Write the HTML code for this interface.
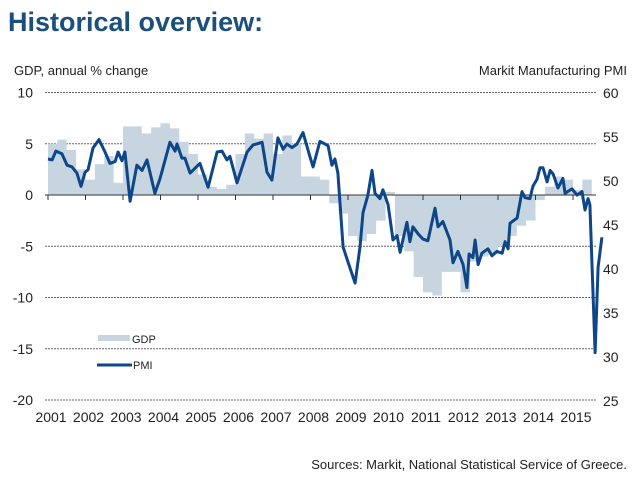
<!DOCTYPE html>
<html><head><meta charset="utf-8"><style>
body{margin:0;background:#fff;width:640px;height:481px;overflow:hidden;font-family:"Liberation Sans",sans-serif}
svg{position:absolute;left:0;top:0}
</style></head><body>
<svg id="c" width="640" height="481">
<text x="8" y="31" font-size="27" font-weight="bold" fill="#1b4f7e">Historical overview:</text>
<text x="14" y="75" font-size="13" fill="#222">GDP, annual % change</text>
<text x="627" y="75" font-size="13" fill="#222" text-anchor="end">Markit Manufacturing PMI</text>
<text x="627" y="469" font-size="13" fill="#222" text-anchor="end">Sources: Markit, National Statistical Service of Greece.</text>
<g id="grid"></g><g id="area"></g><g id="axes"></g><g id="line"></g>
<g>
<rect x="98" y="335" width="32" height="6" fill="#c6d5e0"/>
<text x="132" y="343" font-size="11" fill="#222">GDP</text>
<line x1="97" y1="365" x2="132" y2="365" stroke="#0d4689" stroke-width="3"/>
<text x="133" y="369" font-size="11" fill="#222">PMI</text>
</g>
</svg>
<script>
const years=[2001,2002,2003,2004,2005,2006,2007,2008,2009,2010,2011,2012,2013,2014,2015];
const leftTicks=[10,5,0,-5,-10,-15,-20];
const rightTicks=[60,55,50,45,40,35,30,25];
const gdpValues=[5.0,5.4,4.4,2.5, 1.5,3.0,3.8,1.2, 6.7,6.7,6.0,6.6, 7.0,6.5,5.2,4.0, 2.0,0.8,0.6,1.0, 4.0,6.0,5.5,6.0, 4.0,5.8,5.0,1.8, 1.8,1.5,-0.8,-1.8, -4.0,-4.5,-3.8,-2.5, 0.3,-4.0,-5.5,-8.0, -9.5,-9.8,-7.5,-7.5, -9.5,-6.5,-6.0,-5.8, -5.0,-4.0,-3.0,-2.5, -0.5,0.8,1.8,1.5, 0.5,1.5];
const pmiDates=[2001.00,2001.11,2001.21,2001.37,2001.51,2001.64,2001.77,2001.88,2001.99,2002.07,2002.20,2002.36,2002.52,2002.65,2002.79,2002.87,2002.97,2003.05,2003.19,2003.37,2003.51,2003.64,2003.85,2003.99,2004.25,2004.39,2004.44,2004.57,2004.65,2004.79,2005.05,2005.27,2005.51,2005.64,2005.77,2005.85,2006.04,2006.31,2006.47,2006.71,2006.84,2006.97,2007.13,2007.27,2007.37,2007.51,2007.64,2007.80,2007.99,2008.07,2008.25,2008.39,2008.47,2008.57,2008.65,2008.73,2008.87,2009.00,2009.19,2009.32,2009.40,2009.53,2009.64,2009.72,2009.85,2009.93,2010.07,2010.20,2010.31,2010.39,2010.57,2010.65,2010.73,2010.87,2011.00,2011.13,2011.32,2011.40,2011.53,2011.72,2011.80,2011.93,2012.07,2012.17,2012.23,2012.33,2012.39,2012.47,2012.57,2012.73,2012.84,2012.97,2013.11,2013.19,2013.27,2013.32,2013.51,2013.64,2013.72,2013.85,2013.93,2014.04,2014.12,2014.20,2014.31,2014.39,2014.47,2014.60,2014.73,2014.79,2014.97,2015.11,2015.24,2015.32,2015.40,2015.45,2015.59,2015.67,2015.77];
const pmiValues=[52.5,52.4,53.4,53.1,51.8,51.6,50.9,49.4,51.0,51.3,53.75,54.7,53.3,52.0,52.2,53.3,52.3,53.3,47.7,51.8,51.2,52.4,48.6,50.3,54.4,53.4,54.2,52.6,52.6,50.9,52.0,49.3,53.3,53.4,52.4,52.8,49.8,53.3,54.1,54.4,51.0,50.1,54.9,53.6,54.2,53.8,54.2,55.5,52.7,51.6,54.5,54.2,54.0,51.8,52.5,50.9,42.5,40.8,38.4,42.5,46.4,48.4,51.2,48.6,48.0,49.0,47.3,43.3,43.8,41.9,45.3,43.1,44.8,44.0,43.4,43.2,46.9,44.8,45.4,43.3,40.7,42.0,40.5,37.9,41.7,41.3,43.3,40.5,41.8,42.3,41.5,42.0,41.8,43.1,42.3,45.2,45.8,48.8,48.1,48.0,49.4,50.2,51.5,51.5,49.9,51.2,50.8,49.2,50.3,48.6,49.1,48.4,48.8,46.7,48.0,47.3,30.5,40.2,43.6];

const NS='http://www.w3.org/2000/svg';
const X0=48,PXY=37.5;
const xs=t=>X0+(t-2001)*PXY;
const yL=v=>195-v*10.25;
const yR=v=>181-(v-50)*8.8;
function mk(tag,attrs,parent){const e=document.createElementNS(NS,tag);for(const k in attrs)e.setAttribute(k,attrs[k]);document.getElementById(parent).appendChild(e);return e;}

leftTicks.forEach(v=>{
  if(v!==0){const g=mk('line',{x1:45,x2:596,y1:yL(v),y2:yL(v),stroke:'#666','stroke-width':1,'stroke-dasharray':'2,1'},'grid');
  
  }
  const t=mk('text',{x:33,y:yL(v)+5,'font-size':14,fill:'#222','text-anchor':'end'},'axes');t.textContent=v;
  
  
});
rightTicks.forEach(v=>{
  const t=mk('text',{x:603,y:yR(v)+5,'font-size':14,fill:'#222'},'axes');t.textContent=v;
  
  
});
// GDP step area
let d='M'+xs(2001)+','+yL(0);
gdpValues.forEach((v,i)=>{const a=xs(2001+i/4),b=xs(2001+(i+1)/4);d+=' L'+a+','+yL(v)+' L'+b+','+yL(v);});
d+=' L'+xs(2001+gdpValues.length/4)+','+yL(0)+' Z';
const ar=mk('path',{d:d,fill:'#c6d5e0'},'area');


// zero axis
const z=mk('line',{x1:45,x2:596,y1:yL(0),y2:yL(0),stroke:'#333','stroke-width':1},'axes');


years.forEach(y=>{
  const tk=mk('line',{x1:xs(y),x2:xs(y),y1:yL(0),y2:yL(0)+5,stroke:'#333'},'axes');
  
  
  const t=mk('text',{x:xs(y)+3,y:422,'font-size':14,fill:'#222','text-anchor':'middle'},'axes');t.textContent=y;
  
  
});
const pts=pmiDates.map((t,i)=>xs(t).toFixed(1)+','+yR(pmiValues[i]).toFixed(1)).join(' ');
const pl=mk('polyline',{points:pts,fill:'none',stroke:'#0d4689','stroke-width':3,'stroke-linejoin':'round'},'line');


</script>
</body></html>
